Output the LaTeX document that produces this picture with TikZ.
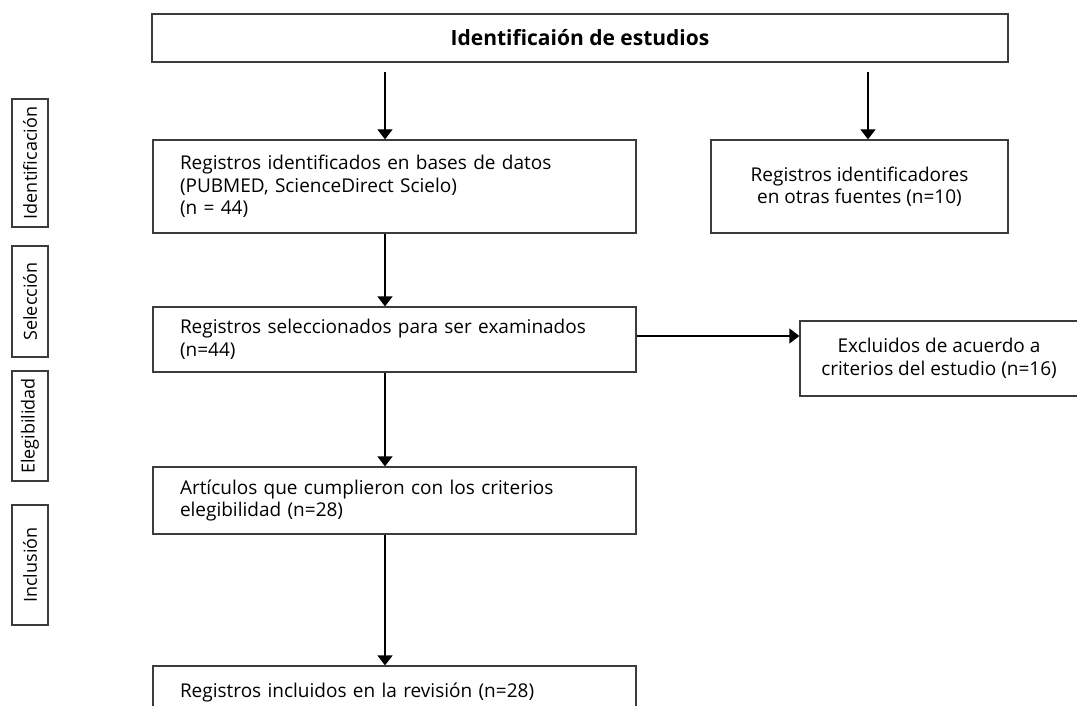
\documentclass[tikz,border=0pt]{standalone}
\usepackage{fontspec}
\setmainfont{Open Sans}
\usetikzlibrary{arrows.meta}
\definecolor{boxline}{RGB}{60,60,60}
\tikzset{
  box/.style={draw=boxline, line width=1.2pt, rectangle, inner sep=0pt, font=\fontsize{19}{22.5}\selectfont},
  leftbox/.style={box, align=left, inner xsep=27pt},
  sidebox/.style={draw=boxline, line width=1.2pt, rectangle, inner sep=0pt, rotate=90, font=\fontsize{18}{20}\selectfont},
  arr/.style={line width=1.2pt, -{Triangle[width=15pt,length=10pt]}}
}
\begin{document}
\begin{tikzpicture}[x=1pt,y=-1pt]
\useasboundingbox (0,0) rectangle (1077,706);
\clip (0,0) rectangle (1077,706);
% main boxes
\node[box, minimum width=856pt, minimum height=48pt, font=\fontsize{21}{24}\selectfont\bfseries] (top) at (580,38) {Identificaión de estudios};
\node[leftbox, text width=429pt, minimum height=93pt] (A) at (394.5,186.5) {Registros identificados en bases de datos\\(PUBMED, ScienceDirect Scielo)\\(n = 44)};
\node[box, align=center, minimum width=297pt, minimum height=93pt] (B) at (859.5,186.5) {Registros identificadores\\en otras fuentes (n=10)};
\node[leftbox, text width=429pt, minimum height=65pt] (S) at (394.5,339.5) {Registros seleccionados para ser examinados\\(n=44)};
\node[box, align=center, minimum width=278pt, minimum height=75pt] (X) at (939,358.5) {Excluidos de acuerdo a\\criterios del estudio (n=16)};
\node[leftbox, text width=429pt, minimum height=67pt] (E) at (394.5,500.5) {Artículos que cumplieron con los criterios\\elegibilidad (n=28)};
\node[leftbox, text width=429pt, minimum height=52pt] (F) at (394.5,692) {Registros incluidos en la revisión (n=28)};
% side labels
\node[sidebox, minimum width=128pt, minimum height=36pt] (L1) at (30,163) {Identificación};
\node[sidebox, minimum width=111pt, minimum height=36pt] (L2) at (30,301.5) {Selección};
\node[sidebox, minimum width=110pt, minimum height=36pt] (L3) at (30,426) {Elegibilidad};
\node[sidebox, minimum width=120pt, minimum height=36pt] (L4) at (30,565) {Inclusión};
% connectors
\coordinate (c1) at (385,72);
\coordinate (c2) at (868,72);
\coordinate (h) at (700,336);
\draw[arr] (c1) -- (c1 |- A.north);
\draw[arr] (c2) -- (c2 |- B.north);
\draw[arr] (c1 |- A.south) -- (c1 |- S.north);
\draw[arr] (h -| S.east) -- (h -| X.west);
\draw[arr] (c1 |- S.south) -- (c1 |- E.north);
\draw[arr] (c1 |- E.south) -- (c1 |- F.north);
\end{tikzpicture}
\end{document}
